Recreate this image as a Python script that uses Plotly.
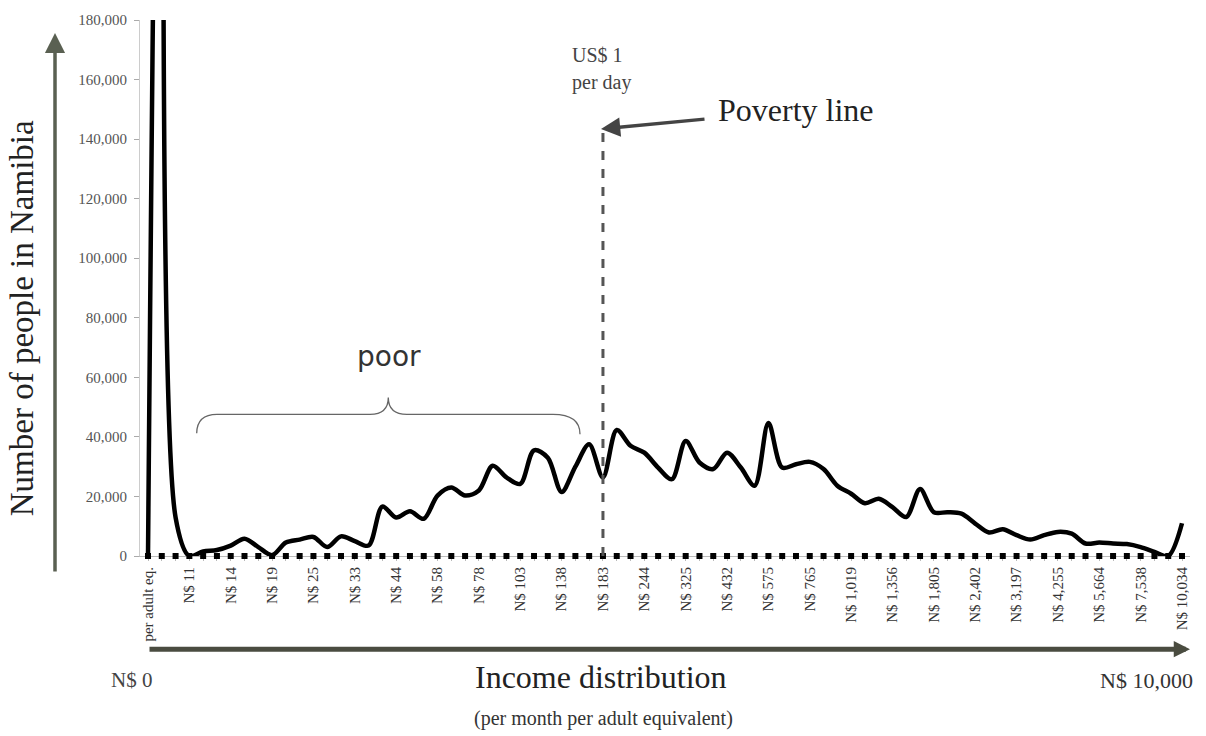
import plotly.graph_objects as go

# ---- data ----
category_index = list(range(76))
people_thousands = [
    0, 380, 13, 0, 1.5, 2, 3.5, 5.8, 3, 0.3,
    4.5, 5.5, 6.4, 3, 6.6, 5, 3.5, 16.6, 12.9, 15,
    12.5, 20.3, 23, 20.3, 22, 30.3, 26.4, 24.2, 35.5, 33,
    21.5, 30, 37.5, 26.4, 42.3, 37, 34.7, 29.7, 25.8, 38.6,
    31.4, 29.2, 34.7, 29.7, 23.6, 44.7, 29.7, 30.8, 31.6, 29.2,
    23.6, 20.9, 17.7, 19.2, 16.4, 13.1, 22.5, 14.7, 14.7, 14.2,
    10.9, 7.9, 9, 7, 5.5, 7, 8.1, 7.5, 4.2, 4.5,
    4.2, 4, 3, 1.4, 0, 11,
]
people = [v * 1000 for v in people_thousands]
zero_line = [0] * len(category_index)

tick_labels = [
    "per adult eq.", "N$ 11", "N$ 14", "N$ 19", "N$ 25", "N$ 33", "N$ 44",
    "N$ 58", "N$ 78", "N$ 103", "N$ 138", "N$ 183", "N$ 244", "N$ 325",
    "N$ 432", "N$ 575", "N$ 765", "N$ 1,019", "N$ 1,356", "N$ 1,805",
    "N$ 2,402", "N$ 3,197", "N$ 4,255", "N$ 5,664", "N$ 7,538", "N$ 10,034",
]
label_step = 3
y_ticks = list(range(0, 180001, 20000))
poverty_label = "N$ 183"

# ---- derived ----
ticktext = []
for i in category_index:
    ticktext.append(tick_labels[i // label_step] if i % label_step == 0 else "")
poverty_idx = tick_labels.index(poverty_label) * label_step

# ---- layout geometry helpers (pixel -> paper) ----
W, H = 1206, 736
ML, MR, MT, MB = 140, 16, 15, 180
PW, PH = W - ML - MR, H - MT - MB


def px(x):
    return (x - ML) / PW


def py(y):
    return (H - MB - y) / PH


SERIF = "Liberation Serif"

fig = go.Figure()
fig.add_trace(go.Scatter(
    x=category_index, y=zero_line, mode="markers",
    marker=dict(symbol="square", size=6, color="black"),
    cliponaxis=False, hoverinfo="skip", showlegend=False,
))
fig.add_trace(go.Scatter(
    x=category_index, y=people, mode="lines",
    line=dict(color="black", width=4.5, shape="spline", smoothing=0.9),
    showlegend=False,
))

shapes = [
    dict(type="line", xref="x", yref="paper", x0=poverty_idx, x1=poverty_idx,
         y0=0, y1=py(125), line=dict(color="#555555", width=3, dash="dash")),
]
brace_pts = ("M {a},{b} Q {c},{d} {e},{d} L {f},{d} Q {g},{d} {g},{h} "
             "Q {g},{d} {i},{d} L {j},{d} Q {k},{d} {k},{l}").format(
    a=px(196.7), b=py(432), c=px(197), d=py(413), e=px(217), f=px(370),
    g=px(388.3), h=py(396), i=px(407), j=px(553), k=px(580), l=py(433))
shapes.append(dict(type="path", xref="paper", yref="paper", path=brace_pts,
                   line=dict(color="#666666", width=1.3)))

ann = []


def text(x, y, t, size, color="#222222", family=SERIF, **kw):
    ann.append(dict(xref="paper", yref="paper", x=px(x), y=py(y), text=t,
                    showarrow=False, xanchor="center", yanchor="middle",
                    font=dict(family=family, size=size, color=color), **kw))


text(22, 316, "Number of people in Namibia", 33, textangle=-90)
text(131, 681, "N$ 0", 21, "#444444")
text(601, 678, "Income distribution", 32)
text(1146, 682, "N$ 10,000", 22, "#333333")
text(603, 720, "(per month per adult equivalent)", 20, "#333333")
text(597, 50, "US$ 1", 20, "#444444")
text(601, 78, "per day", 20, "#444444")
text(796, 106, "Poverty line", 32)
text(389, 355, "poor", 28, "#333333", family="DejaVu Sans")

# arrows
ann.append(dict(xref="paper", yref="paper", x=px(55), y=py(28), ax=0, ay=540,
                axref="pixel", ayref="pixel", text="", showarrow=True,
                arrowhead=2, arrowwidth=3.5, arrowsize=1.15, arrowcolor="#5a6052"))
ann.append(dict(xref="paper", yref="paper", x=px(1190), y=py(650), ax=-1042, ay=0,
                text="", showarrow=True, arrowhead=2, arrowwidth=5,
                arrowsize=0.65, arrowcolor="#4a4c40"))
ann.append(dict(xref="paper", yref="paper", x=px(601), y=py(125), ax=105, ay=-10,
                text="", showarrow=True, arrowhead=2, arrowwidth=3.5,
                arrowsize=1.1, arrowcolor="#444444"))

fig.update_layout(
    width=W, height=H, margin=dict(l=ML, r=MR, t=MT, b=MB),
    paper_bgcolor="white", plot_bgcolor="white",
    shapes=shapes, annotations=ann,
    xaxis=dict(
        range=[-0.58, 75.58], tickmode="array", tickvals=category_index,
        ticktext=ticktext, tickangle=-90, ticks="outside", ticklen=4,
        tickcolor="#bbbbbb", showline=True, linecolor="#bbbbbb", linewidth=1,
        showgrid=False, zeroline=False, layer="below traces",
        tickfont=dict(family=SERIF, size=15, color="#333333"),
    ),
    yaxis=dict(
        range=[0, 180000], tickmode="array", tickvals=y_ticks,
        tickformat=",", ticks="outside", ticklen=5, tickcolor="#aaaaaa",
        showline=True, linecolor="#cccccc", linewidth=1, showgrid=False,
        zeroline=False, ticklabelstandoff=4, layer="below traces",
        tickfont=dict(family=SERIF, size=15, color="#555555"),
    ),
)

fig.write_html(
    "out.html",
    config={"displayModeBar": False},
    post_script="document.body.style.margin='0';document.body.style.overflow='hidden';",
)
